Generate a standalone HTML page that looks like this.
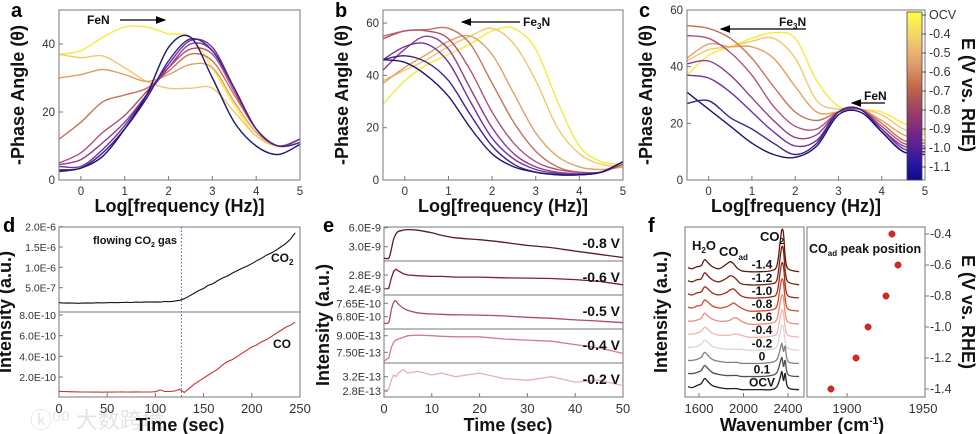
<!DOCTYPE html>
<html><head><meta charset="utf-8"><style>
html,body{margin:0;padding:0;background:#fff;}
svg{display:block;font-family:"Liberation Sans","Noto Sans CJK SC",sans-serif;}
.t{font-size:11.5px;fill:#333;}
.ti{font-size:18px;font-weight:bold;fill:#111;}
.lb{font-size:20px;font-weight:bold;fill:#000;}
.an{font-size:12px;font-weight:bold;fill:#111;}
</style></head><body>
<svg id="fig" width="976" height="434" viewBox="0 0 976 434">
<defs>
<linearGradient id="cbg" x1="0" y1="0" x2="0" y2="1">
<stop offset="0" stop-color="#ffff40"/><stop offset="0.15" stop-color="#f4d070"/><stop offset="0.3" stop-color="#e0a070"/>
<stop offset="0.45" stop-color="#c06848"/><stop offset="0.6" stop-color="#9a3c68"/><stop offset="0.75" stop-color="#6a2490"/>
<stop offset="0.9" stop-color="#2a18a0"/><stop offset="1" stop-color="#0a0a90"/>
</linearGradient>
<marker id="ah" markerWidth="8" markerHeight="6" refX="7" refY="3" orient="auto"><path d="M0,0 L8,3 L0,6 z" fill="#000"/></marker>
</defs>
<text x="30" y="428" style="font-size:22px;fill:#e4e4e4">ⓚ⁰⁰ 大数跨境</text>
</svg>
<script>
// ---------- data ----------
const freqGrid=[-0.5,0,0.5,1,1.5,2,2.5,3,3.5,4,4.5,5];
const phaseColors=["#f4ea3c","#f0c868","#e0a060","#c87058","#b05078","#903c90","#7030a0","#402090","#181870"];
const phaseA=[
[37,38,42,45,45,43,42,33,22,13,10,12],
[37,36,36.5,33,29,27,27,27,20,13,10,12],
[30,31,32.5,31,29,31,34,33,23,14,10,12],
[12,17,23,25,27,32,37,35,25,15,10,12],
[5,8,14,19,26,33,38.5,37,26,15,10,12],
[4.5,6,11,17,25,33,40,38,27,15,10,12],
[4,4,9,16,25,34,41,39,27,15,10,12],
[3,3.5,8,15,24,35,41.5,38,27,15,10,11],
[2.5,3.5,7,15,25,39,42,30,17,10,7.5,10.5]];
const phaseB=[
[29,38,44,48,52,57,58,50,30,13,7,6],
[38,42,46,51,55,58,52,38,20,10,6,5],
[37,43,48,53,55,48,33,18,9,5,4,5],
[55,57,57.5,58,52,37,22,11,5,3,3,6],
[54,57,57,54,42,26,14,7,4,3,3,6],
[42,50,55,50,35,20,10,5,3,2.5,3,7],
[46,51,52,45,30,16,8,4,2.5,2,3,7],
[46,47.5,45,38,25,13,6,3,2,2,3,7],
[46,45,40,32,20,10,5,3,2,2,3,7]];
const phaseC=[
[37,44,47,50,52,50,35,26,25,24,20,17],
[42,46,47,49,50,43,28,25,25,23,18,16],
[43,48,47,47,43,33,24,24,25,21,16,14],
[54.5,53.5,50,43,33,24,21,24,25,20,14,13],
[51,50,45,37,26,19,18,24,25,19,13,12],
[41,42,37,29,21,15,16,24,25,18,12,11],
[37,36,31,24,17,12,14,24,25,18,11,10],
[27,28,22,18,13,9,13,24,25,17,10,10],
[31,25,19,13,9,8,12,23,24,17,10,9]];
const freqTicks=[0,1,2,3,4,5];
const phaseTicksA=[0,20,40];
const phaseTicksBC=[0,20,40,60];
const cbLabels=["OCV","-0.4","-0.5","-0.6","-0.7","-0.8","-0.9","-1.0","-1.1"];
// panel d
const dTicks=[0,50,100,150,200,250];
const co2Vals=[1.3,1.2,1.25,1.2,1.15,1.2,1.25,1.2,1.3,1.25,1.3,1.35,1.3,1.35,1.4,1.35,1.45,1.4,1.5,1.45,1.5,1.45,1.6,1.55,1.7,1.9,
2.3,2.9,3.6,4.3,4.8,5.6,6.0,6.8,7.4,7.9,8.6,9.2,9.8,10.3,10.9,11.6,12.2,13.0,13.5,14.2,15.0,15.8,16.9,18.5];
const coVals=[0.62,0.6,0.58,0.57,0.56,0.55,0.55,0.54,0.55,0.53,0.55,0.54,0.55,0.56,0.55,0.54,0.56,0.55,0.55,0.55,0.58,0.75,0.6,0.6,0.65,0.8,
0.5,0.9,1.3,1.6,1.9,2.2,2.5,2.8,3.2,3.5,3.7,4.0,4.3,4.6,4.9,5.1,5.4,5.6,5.9,6.2,6.5,6.8,7.0,7.3];
const co2TickVals=[5,10,15,20]; const co2TickLbl=["5.0E-7","1.0E-6","1.5E-6","2.0E-6"];
const coTickVals=[2,4,6,8]; const coTickLbl=["2.0E-10","4.0E-10","6.0E-10","8.0E-10"];
// panel e
const eTime=[0,1,1.5,2,2.5,3,4,5,7,10,12,15,20,25,30,35,40,45,50];
const eTicks=[0,10,20,30,40,50];
const eLabels=["-0.8 V","-0.6 V","-0.5 V","-0.4 V","-0.2 V"];
const eColors=["#5a1a2a","#7a2032","#b04a62","#d07a90","#e8b0b8"];
const eS1=[1.2,1.2,2.5,4.2,5.0,5.4,5.6,5.7,5.6,5.2,4.8,4.4,4.1,3.7,3.2,2.85,2.3,1.8,1.3];
const eS2=[2.40,2.42,2.7,2.9,2.97,2.92,2.84,2.80,2.78,2.76,2.76,2.74,2.74,2.72,2.71,2.70,2.67,2.62,2.52];
const eS3=[6.38,6.45,7.2,7.7,7.8,7.6,7.35,7.2,7.05,6.97,6.95,6.92,6.9,6.85,6.76,6.7,6.6,6.52,6.42];
const eS4=[6.7,7.0,7.9,8.4,8.6,8.7,8.85,9.0,9.05,9.0,8.95,8.9,8.9,8.7,8.6,8.5,8.2,7.9,7.4];
const eS5=[2.8,2.85,3.1,3.25,3.2,3.3,3.4,3.3,3.35,3.25,3.3,3.2,3.3,3.15,3.1,3.2,3.05,3.1,2.95];
const eTickA=[[3,6],[2.4,2.8],[6.8,7.65],[7.5,9.0],[2.8,3.2]];
const eTickL=[["3.0E-9","6.0E-9"],["2.4E-9","2.8E-9"],["6.80E-10","7.65E-10"],["7.50E-13","9.00E-13"],["2.8E-13","3.2E-13"]];
// panel f
const wn=[1500,1540,1580,1620,1650,1680,1720,1780,1840,1880,1910,1940,1980,2050,2150,2250,2300,2330,2345,2360,2375,2400,2500];
const fLabels=["-1.4","-1.2","-1.0","-0.8","-0.6","-0.4","-0.2","0","0.1","OCV"];
const fColors=["#5a1a10","#7a2010","#a02c18","#d04828","#e89080","#f0b8b0","#d8d8d8","#808080","#505050","#202020"];
const fSpec=[
[4,3,5,6,12,9,5,3,7,10,8,4,1,0,0,1,6,30,42,38,15,3,0],
[4,3,5,6,12,9,5,3,6,9,8,5,1,0,0,1,5,28,38,34,14,3,0],
[4,3,5,6,11,9,5,3,5,8,9,6,2,0,0,1,5,26,35,31,13,2,0],
[4,3,5,6,11,9,5,3,4,6,8,6,3,0,0,1,5,24,32,28,12,2,0],
[3,3,4,6,11,8,5,3,3,4,6,6,3,0,0,1,5,22,29,26,11,2,0],
[3,3,4,6,10,8,4,2,2,2,3,3,2,0,0,1,4,20,27,24,10,2,0],
[3,3,4,6,10,8,4,2,1,1,1,1,1,0,0,1,4,18,25,22,9,2,0],
[3,3,4,6,11,8,4,2,1,1,1,1,0,0,0,1,4,14,20,12,17,2,0],
[3,3,4,6,11,8,4,2,1,1,1,1,0,0,0,1,4,14,19,10,16,2,0],
[3,2,4,6,11,8,4,2,1,1,1,1,0,0,0,0,3,12,18,9,16,2,0]];
const fTicks=[1600,2000,2400];
const peakE=[-0.4,-0.6,-0.8,-1.0,-1.2,-1.4];
const peakPos=[1928.8,1932.7,1925,1913.5,1905.8,1889.7];
const peakETicks=[-0.4,-0.6,-0.8,-1.0,-1.2,-1.4];
const peakXTicks=[1900,1950];

// ---------- helpers ----------
const NS="http://www.w3.org/2000/svg";
const svg=document.getElementById("fig");
function lin(d0,d1,r0,r1){return v=>r0+(v-d0)*(r1-r0)/(d1-d0);}
function mk(tag,attrs,parent){const e=document.createElementNS(NS,tag);for(const k in attrs)e.setAttribute(k,attrs[k]);(parent||svg).appendChild(e);return e;}
function txt(x,y,s,cls,anchor,extra){const e=mk("text",Object.assign({x:x,y:y,class:cls,"text-anchor":anchor||"middle"},extra||{}));e.textContent=s;return e;}
function smooth(pts){let d="M"+pts[0][0].toFixed(1)+","+pts[0][1].toFixed(1);
 for(let i=0;i<pts.length-1;i++){const p0=pts[i-1]||pts[i],p1=pts[i],p2=pts[i+1],p3=pts[i+2]||p2;
 const c1=[p1[0]+(p2[0]-p0[0])/6,p1[1]+(p2[1]-p0[1])/6],c2=[p2[0]-(p3[0]-p1[0])/6,p2[1]-(p3[1]-p1[1])/6];
 d+=" C"+c1[0].toFixed(1)+","+c1[1].toFixed(1)+" "+c2[0].toFixed(1)+","+c2[1].toFixed(1)+" "+p2[0].toFixed(1)+","+p2[1].toFixed(1);}return d;}
function poly(pts){return "M"+pts.map(p=>p[0].toFixed(1)+","+p[1].toFixed(1)).join(" L");}
function frame(x0,y0,x1,y1){const r=mk("rect",{x:x0,y:y0,width:x1-x0,height:y1-y0,fill:"none",stroke:"#777","stroke-width":1});return r;}

// ---------- phase panels a,b,c ----------
function phasePanel(key,box,ymax,sets,yticks,letter){
 const sx=lin(-0.5,5,box[0],box[2]), sy=lin(0,ymax,box[3],box[1]);
 const g=mk("g",{"clip-path":"url(#clip"+key+")"});
 
 
 const cp=mk("clipPath",{id:"clip"+key}); mk("rect",{x:box[0],y:box[1],width:box[2]-box[0],height:box[3]-box[1]},cp);
 sets.forEach((s,i)=>{const p=mk("path",{d:smooth(s.map((v,j)=>[sx(freqGrid[j]),sy(v)])),fill:"none",stroke:phaseColors[i],"stroke-width":1.4},g);
  
  });
 const f=frame(box[0],box[1],box[2],box[3]);
 
 
 freqTicks.forEach(t=>{mk("line",{x1:sx(t),x2:sx(t),y1:box[3],y2:box[3]-4,stroke:"#777"});
  const e=txt(sx(t),box[3]+15,String(t),"t");
  
  });
 yticks.forEach(t=>{mk("line",{x1:box[0],x2:box[0]+4,y1:sy(t),y2:sy(t),stroke:"#777"});
  const e=txt(box[0]-4,sy(t)+4,String(t),"t","end");
  
  });
 const xt=txt((box[0]+box[2])/2+(key==="c"?-10:0),212,"Log[frequency (Hz)]","ti");
 
 
 const yx=box[0]-35, yc=(box[1]+box[3])/2;
 const yt=txt(yx,yc,"-Phase Angle (θ)","ti","middle",{transform:"rotate(-90 "+yx+" "+yc+")"});
 
 
 const l=txt(box[0]-48,17,letter,"lb","start");
 
 
}
phasePanel("a",[59,10,300,180],50,phaseA,phaseTicksA,"a");
phasePanel("b",[383,10,623,180],65,phaseB,phaseTicksBC,"b");
phasePanel("c",[687,10,925,180],60,phaseC,phaseTicksBC,"c");
// annotations
function arrow(x1,y1,x2,y2,name){const a=mk("line",{x1:x1,y1:y1,x2:x2,y2:y2,stroke:"#000","stroke-width":1.3,"marker-end":"url(#ah)"});
 
 }
let an=txt(87,24,"FeN","an","start");  
arrow(120,20,165,20,'fen-arrow-a');
an=txt(523,26,"","an","start"); an.innerHTML='Fe<tspan dy="3" font-size="8">3</tspan><tspan dy="-3">N</tspan>';
 
arrow(520,22,462,22,'fe3n-arrow-b');
an=txt(779,26,"","an","start"); an.innerHTML='Fe<tspan dy="3" font-size="8">3</tspan><tspan dy="-3">N</tspan>';
 
arrow(806,29,721,29,'fe3n-arrow-c');
an=txt(864,100,"FeN","an","start");  
arrow(885,103,852,103,'fen-arrow-c');
// colorbar
const cb=mk("rect",{x:907,y:12,width:15,height:168,fill:"url(#cbg)",stroke:"#444","stroke-width":0.8});


cbLabels.forEach((s,i)=>{const y=19+i*19;mk("line",{x1:922,x2:926,y1:y-4,y2:y-4,stroke:"#555"});
 const e=txt(929,y,s,"t","start",{style:"font-size:12.5px"});
 
 });
let ct=txt(962,95,"E (V vs. RHE)","ti","middle",{transform:"rotate(90 962 95)"});



// ---------- panel d ----------
{
 const x0=59,x1=300; const sx=lin(0,250,x0,x1);
 const syT=lin(0,20,308,226.7), syB=lin(0,8,397.7,315);
 const f1=frame(x0,227,x1,312);  
 const f2=frame(x0,312,x1,397);  
 const p1=mk("path",{d:poly(co2Vals.map((v,i)=>[sx(i*5),syT(v)])),fill:"none",stroke:"#111","stroke-width":1.1});
  
 const p2=mk("path",{d:poly(coVals.map((v,i)=>[sx(i*5),syB(v)])),fill:"none",stroke:"#c83030","stroke-width":1.1});
  
 const dl=mk("line",{x1:sx(127),x2:sx(127),y1:227,y2:397,stroke:"#5060b0","stroke-dasharray":"1.5,2","stroke-width":1});
  
 co2TickVals.forEach((v,i)=>{mk("line",{x1:x0,x2:x0+4,y1:syT(v),y2:syT(v),stroke:"#777"});
  const e=txt(x0-3,syT(v)+4,co2TickLbl[i],"t","end",{style:"font-size:10.5px"});
   });
 coTickVals.forEach((v,i)=>{mk("line",{x1:x0,x2:x0+4,y1:syB(v),y2:syB(v),stroke:"#777"});
  const e=txt(x0-3,syB(v)+4,coTickLbl[i],"t","end",{style:"font-size:10.5px"});
   });
 dTicks.forEach(t=>{mk("line",{x1:sx(t),x2:sx(t),y1:397,y2:393,stroke:"#777"});
  const e=txt(sx(t),413,String(t),"t","middle",{style:"font-size:13px"});
   });
 let e=txt(93,244,"","an","start",{style:"font-size:11px"}); e.innerHTML='flowing CO<tspan dy="3" font-size="7">2</tspan><tspan dy="-3"> gas</tspan>';
  
 e=txt(271,262,"","an","start",{style:"font-size:12px"}); e.innerHTML='CO<tspan dy="3" font-size="8">2</tspan>';
  
 e=txt(273,348,"CO","an","start",{style:"font-size:12px"});  
 e=txt(180,431,"Time (sec)","ti");  
 e=txt(11,312,"Intensity (a.u.)","ti","middle",{transform:"rotate(-90 11 312)"});  
 e=txt(3,232,"d","lb","start");  
}

// ---------- panel e ----------
{
 const x0=384,x1=623; const sx=lin(0,50,x0,x1);
 const bounds=[227,261,295,329,363,397];
 const tickPx=[[246.7,227.7],[289,275],[316.7,303.3],[352.3,335.7],[391,376.7]];
 const series=[eS1,eS2,eS3,eS4,eS5];
 series.forEach((s,k)=>{
  const f=frame(x0,bounds[k],x1,bounds[k+1]);  
  const sy=lin(eTickA[k][0],eTickA[k][1],tickPx[k][0],tickPx[k][1]);
  const p=mk("path",{d:(k<1||k==2?smooth:poly)(s.map((v,i)=>[sx(eTime[i]),sy(v)])),fill:"none",stroke:eColors[k],"stroke-width":1.3});
  
  
  eTickA[k].forEach((v,j)=>{mk("line",{x1:x0,x2:x0+4,y1:sy(v),y2:sy(v),stroke:"#777"});
   const e=txt(x0-3,sy(v)+4,eTickL[k][j],"t","end",{style:"font-size:11px"});
    });
  const l=txt(620,bounds[k]+21,eLabels[k],"an","end",{style:"font-size:14px"});
   
 });
 eTicks.forEach(t=>{mk("line",{x1:sx(t),x2:sx(t),y1:397,y2:393,stroke:"#777"});
  const e=txt(sx(t),413,String(t),"t","middle",{style:"font-size:13px"});
   });
 let e=txt(508,431,"Time (sec)","ti");  
 e=txt(329,325,"Intensity (a.u.)","ti","middle",{transform:"rotate(-90 329 325)"});  
 e=txt(323,232,"e","lb","start");  
}

// ---------- panel f ----------
{
 const x0=685,x1=804; const sx=lin(1600,2400,699,788);
 const base0=271.7, step=13.1;
 const f=frame(x0,227,x1,397);  
 fSpec.forEach((s,k)=>{const b=base0+k*step;
  const p=mk("path",{d:smooth(s.map((v,i)=>[sx(wn[i]),b-v])),fill:"none",stroke:fColors[k],"stroke-width":1.3});
  
  
  const l=txt(762,b-3,fLabels[k],"an","middle",{style:"font-size:12px"});
   });
 fTicks.forEach(t=>{mk("line",{x1:sx(t),x2:sx(t),y1:397,y2:393,stroke:"#777"});
  const e=txt(sx(t),413,String(t),"t","middle",{style:"font-size:13px"});
   });
 let e=txt(692,250,"","an","start",{style:"font-size:13px"}); e.innerHTML='H<tspan dy="3" font-size="8">2</tspan><tspan dy="-3">O</tspan>';
  
 e=txt(719,256,"","an","start",{style:"font-size:13px"}); e.innerHTML='CO<tspan dy="4" font-size="8">ad</tspan>';
  
 e=txt(760,241,"","an","start",{style:"font-size:13px"}); e.innerHTML='CO<tspan dy="3" font-size="8">2</tspan>';
  
 // right panel
 const rx0=807,rx1=925; const px=lin(1900,1950,847,925), py=lin(-0.4,-1.4,234,389);
 const f2=frame(rx0,227,rx1,397);  
 peakE.forEach((v,i)=>{const c=mk("circle",{cx:px(peakPos[i]),cy:py(v),r:3.2,fill:"#d42a20",stroke:"#a01810","stroke-width":0.5});
   });
 peakETicks.forEach(v=>{mk("line",{x1:rx1,x2:rx1+4,y1:py(v),y2:py(v),stroke:"#777"});
  const e2=txt(rx1+5,py(v)+4,v.toFixed(1),"t","start",{style:"font-size:12.5px"});
   });
 peakXTicks.forEach(t=>{mk("line",{x1:px(t),x2:px(t),y1:397,y2:393,stroke:"#777"});
  const e2=txt(px(t)-(t===1950?2:0),413,String(t),"t","middle",{style:"font-size:13px"});
   });
 e=txt(809,253,"","an","start",{style:"font-size:12.5px"}); e.innerHTML='CO<tspan dy="3" font-size="8">ad</tspan><tspan dy="-3"> peak position</tspan>';
  
 e=txt(962,312,"E (V vs. RHE)","ti","middle",{transform:"rotate(90 962 312)"});  
 e=txt(802,431,"","ti"); e.innerHTML='Wavenumber (cm<tspan dy="-7" font-size="10">-1</tspan><tspan dy="7">)</tspan>';
  
 e=txt(667,312,"Intensity (a.u.)","ti","middle",{transform:"rotate(-90 667 312)"});  
 e=txt(648,232,"f","lb","start");  
}
</script>
</body></html>
